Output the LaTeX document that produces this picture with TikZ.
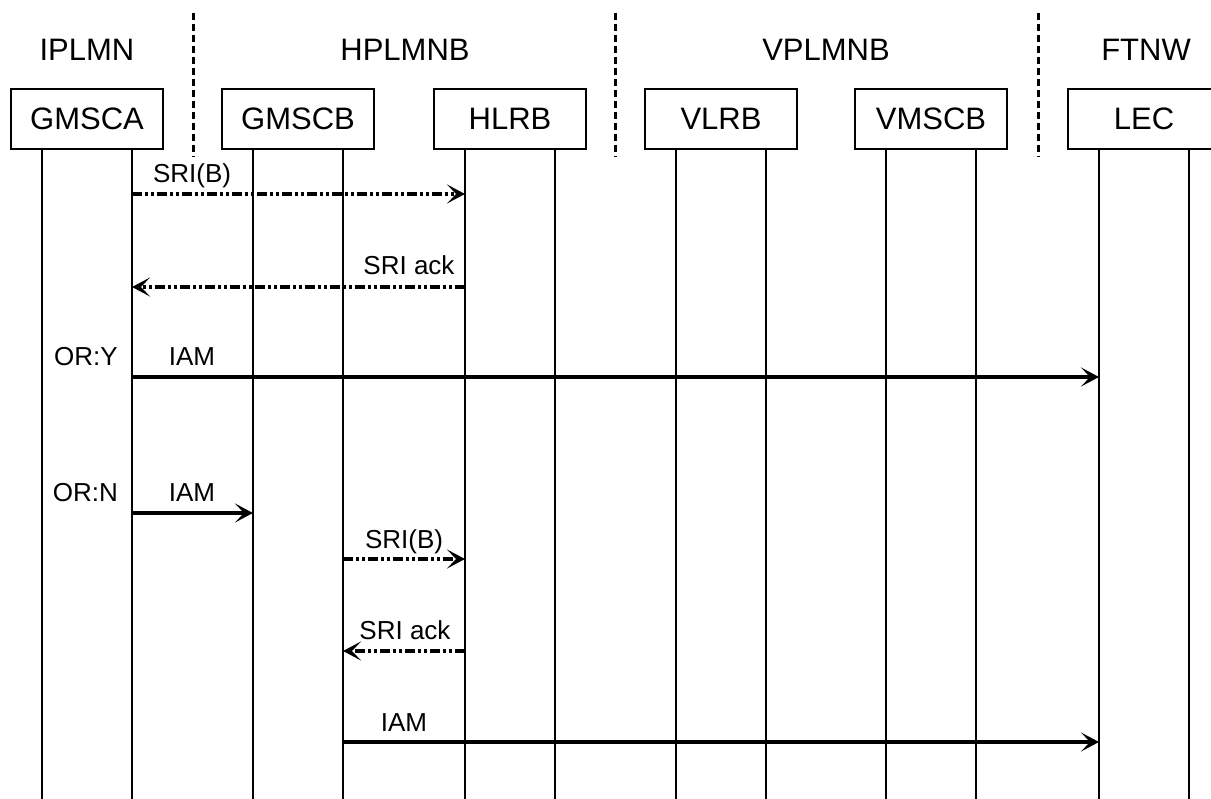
\documentclass[tikz,border=0pt]{standalone}
\usepackage{fontspec}
\setmainfont{Liberation Sans}
\usetikzlibrary{arrows.meta}
\begin{document}
\begin{tikzpicture}[x=1pt,y=-1pt,
  entity/.style={draw,line width=2.4pt,minimum width=152pt,minimum height=60pt,inner sep=0pt,font=\fontsize{31}{37}\selectfont},
  heading/.style={font=\fontsize{31}{37}\selectfont,anchor=base,inner sep=0pt},
  lbl/.style={font=\fontsize{26}{31}\selectfont,anchor=base,inner sep=0pt},
  life/.style={line width=2.3pt},
  divider/.style={line width=3pt,dash pattern=on 7pt off 4pt},
  msg/.style={line width=3.3pt,-{Stealth[length=18pt,width=19pt,inset=9pt]}},
  dmsg/.style={msg,dash pattern=on 10pt off 3pt on 3pt off 3pt on 3pt off 3pt}]
\fill[white] (0,0) rectangle (1211,799);
\useasboundingbox (0,0) rectangle (1211,799);
\begin{scope}
\clip (0,0) rectangle (1211,799);
% headings
\node[heading] (hI) at (87,61) {IPLMN};
\node[heading] (hH) at (405,61) {HPLMNB};
\node[heading] (hV) at (826,61) {VPLMNB};
\node[heading] (hF) at (1146,61) {FTNW};
% dividers
\coordinate (d1t) at (193,13); \coordinate (d1b) at (193,157);
\coordinate (d2t) at (615,13); \coordinate (d2b) at (615,157);
\coordinate (d3t) at (1038,13); \coordinate (d3b) at (1038,157);
\draw[divider] (d1t) -- (d1b);
\draw[divider] (d2t) -- (d2b);
\draw[divider] (d3t) -- (d3b);
% entities
\node[entity] (A) at (87,119) {GMSCA};
\node[entity] (B) at (298,119) {GMSCB};
\node[entity] (H) at (510,119) {HLRB};
\node[entity] (V) at (721,119) {VLRB};
\node[entity] (M) at (931,119) {VMSCB};
\node[entity] (L) at (1144,119) {LEC};
% lifelines
\coordinate (bot) at (0,805);
\foreach \n in {A,B,H,V,M,L}{
  \coordinate (\n1) at ([xshift=-45pt]\n.south);
  \coordinate (\n2) at ([xshift=45pt]\n.south);
  \draw[life] (\n1) -- (\n1 |- bot);
  \draw[life] (\n2) -- (\n2 |- bot);
}
% message rows
\coordinate (y1) at (0,194);
\coordinate (y2) at (0,287);
\coordinate (y3) at (0,377);
\coordinate (y4) at (0,513);
\coordinate (y5) at (0,559);
\coordinate (y6) at (0,651);
\coordinate (y7) at (0,742);
\draw[dmsg] (A2 |- y1) -- (H1 |- y1);
\node[lbl] (t1) at (192,183) {SRI(B)};
\draw[dmsg] (H1 |- y2) -- (A2 |- y2);
\node[lbl] (t2) at (409,275) {SRI ack};
\draw[msg] (A2 |- y3) -- (L1 |- y3);
\node[lbl] (t3) at (192,366) {IAM};
\node[lbl,anchor=base east] (o1) at (118,366) {OR:Y};
\draw[msg] (A2 |- y4) -- (B1 |- y4);
\node[lbl] (t4) at (192,502) {IAM};
\node[lbl,anchor=base east] (o2) at (118,502) {OR:N};
\draw[dmsg] (B2 |- y5) -- (H1 |- y5);
\node[lbl] (t5) at (404,548) {SRI(B)};
\draw[dmsg] (H1 |- y6) -- (B2 |- y6);
\node[lbl] (t6) at (405,639) {SRI ack};
\draw[msg] (B2 |- y7) -- (L1 |- y7);
\node[lbl] (t7) at (404,731) {IAM};
\end{scope}
\end{tikzpicture}
\end{document}
